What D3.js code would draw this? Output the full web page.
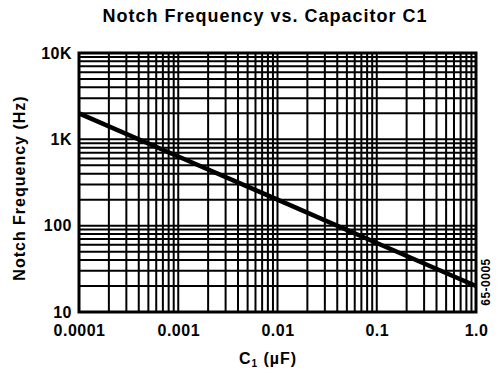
<!DOCTYPE html>
<html><head><meta charset="utf-8">
<script src="https://cdn.jsdelivr.net/npm/d3@7"></script>
<style>body{margin:0;background:#fff}svg{display:block}text{font-family:"Liberation Sans",Arial,sans-serif;font-weight:bold;fill:#000}</style>
</head><body>
<script>
const capValues = [0.0001, 0.001, 0.01, 0.1, 1.0];
const notchFreq = [2000, 632, 200, 63, 20];
const xTickValues = [0.0001, 0.001, 0.01, 0.1, 1.0];
const xTickLabels = ["0.0001", "0.001", "0.01", "0.1", "1.0"];
const yTickValues = [10, 100, 1000, 10000];
const yTickLabels = ["10", "100", "1K", "10K"];

const W = 501, H = 373;
const m = {l: 79, r: 25, t: 53, b: 61};
const svg = d3.select("body").append("svg").attr("width", W).attr("height", H);
const x = d3.scaleLog().domain([0.0001, 1]).range([m.l, W - m.r]);
const y = d3.scaleLog().domain([10, 10000]).range([H - m.b, m.t]);

const xGrid = [], yGrid = [];
for (let e = -4; e < 0; e++) for (let k = 1; k <= 9; k++) xGrid.push(k * Math.pow(10, e));
for (let e = 1; e < 4; e++) for (let k = 1; k <= 9; k++) yGrid.push(k * Math.pow(10, e));

const g = svg.append("g");
g.selectAll("line.vx").data(xGrid).join("line")
  .attr("x1", d => x(d)).attr("x2", d => x(d))
  .attr("y1", m.t).attr("y2", H - m.b)
  .attr("stroke", "#000").attr("stroke-width", 2);
g.selectAll("line.hy").data(yGrid).join("line")
  .attr("y1", d => y(d)).attr("y2", d => y(d))
  .attr("x1", m.l).attr("x2", W - m.r)
  .attr("stroke", "#000").attr("stroke-width", 2);

g.append("rect").attr("x", m.l).attr("y", m.t)
  .attr("width", W - m.r - m.l).attr("height", H - m.b - m.t)
  .attr("fill", "none").attr("stroke", "#000").attr("stroke-width", 3);

const line = d3.line().x((d, i) => x(capValues[i])).y(d => y(d));
svg.append("path").datum(notchFreq).attr("d", line)
  .attr("fill", "none").attr("stroke", "#000").attr("stroke-width", 4.5);

const fontTick = sel => sel.style("font-size", "16px").style("font-family", "Liberation Sans, Arial")
  .style("font-weight", "bold").style("letter-spacing", "0.5px");

const xAxis = d3.axisBottom(x).tickValues(xTickValues).tickFormat((d, i) => xTickLabels[i]).tickSize(0);
const xa = svg.append("g").attr("transform", `translate(0,${H - m.b})`).call(xAxis);
xa.select(".domain").remove();
xa.selectAll("text").attr("y", 24).attr("dy", null).call(fontTick);

const yAxis = d3.axisLeft(y).tickValues(yTickValues).tickFormat((d, i) => yTickLabels[i]).tickSize(0).tickPadding(7);
const ya = svg.append("g").attr("transform", `translate(${m.l},0)`).call(yAxis);
ya.select(".domain").remove();
ya.selectAll("text").call(fontTick);

svg.append("text").attr("x", 265).attr("y", 22).attr("text-anchor", "middle")
  .style("font-size", "18px").style("letter-spacing", "1px").text("Notch Frequency vs. Capacitor C1");

const xl = svg.append("text").attr("x", 268).attr("y", 364).attr("text-anchor", "middle")
  .style("font-size", "16px").style("letter-spacing", "1px");
xl.append("tspan").text("C");
xl.append("tspan").attr("dy", 3).style("font-size", "10px").text("1");
xl.append("tspan").attr("dy", -3).text(" (\u00B5F)");

svg.append("text").attr("transform", "translate(25,188) rotate(-90)").attr("text-anchor", "middle")
  .style("font-size", "16px").style("letter-spacing", "1px").text("Notch Frequency (Hz)");

svg.append("text").attr("transform", "translate(490,282) rotate(-90)").attr("text-anchor", "middle")
  .style("font-size", "12px").style("letter-spacing", "0.5px").text("65-0005");
</script>
</body></html>
